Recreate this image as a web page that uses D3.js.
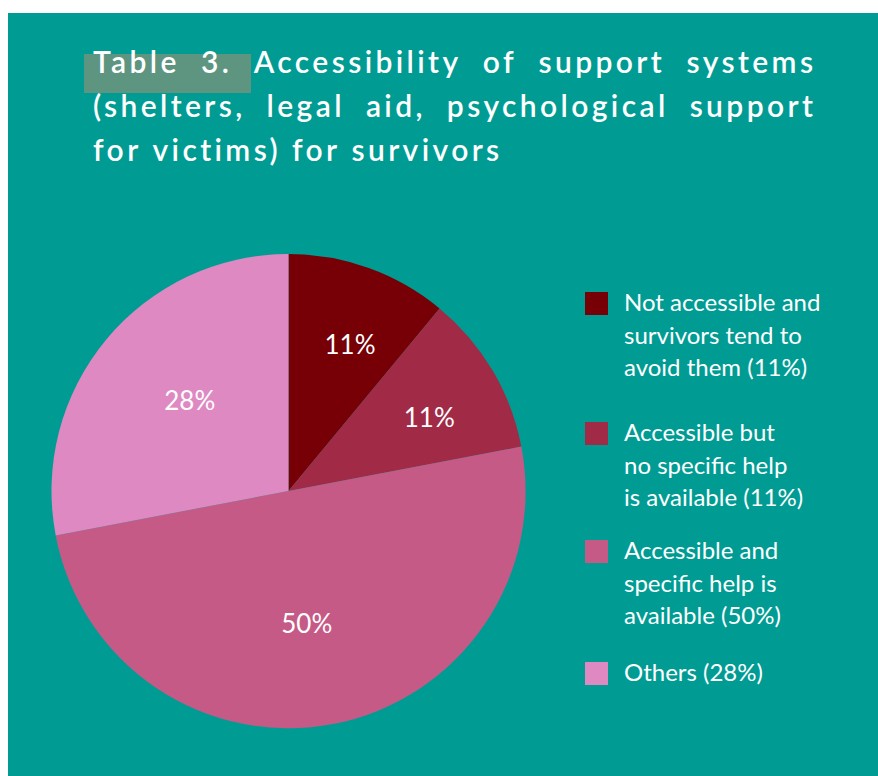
<!DOCTYPE html>
<html>
<head>
<meta charset="utf-8">
<script src="https://cdn.jsdelivr.net/npm/d3@7"></script>
<style>
  html, body { margin: 0; padding: 0; background: #ffffff; }
  svg { display: block; }
</style>
</head>
<body>
<svg id="chart" width="878" height="776"></svg>
<script>
// Support-system accessibility shares, clockwise from 12 o'clock
const categories = [
  "Not accessible and survivors tend to avoid them",
  "Accessible but no specific help is available",
  "Accessible and specific help is available",
  "Others"
];
const values = [11, 11, 50, 28];
const sliceColors = ["#760005", "#a12b46", "#c55a86", "#de89c2"];
const legendLines = [
  ["Not accessible and", "survivors tend to", "avoid them (11%)"],
  ["Accessible but", "no specific help", "is available (11%)"],
  ["Accessible and", "specific help is", "available (50%)"],
  ["Others (28%)"]
];
const titleLines = [
  { words: ["Table", "3.", "Accessibility", "of", "support", "systems"], justify: true },
  { words: ["(shelters,", "legal", "aid,", "psychological", "support"], justify: true },
  { words: ["for", "victims)", "for", "survivors"], justify: false }
];

const svg = d3.select("#chart");

// teal card
svg.append("rect")
  .attr("x", 8).attr("y", 13)
  .attr("width", 870).attr("height", 763)
  .attr("fill", "#009c94");

// ---- title (justified lines) ----
const titleX = 93, titleRight = 813, titleBase = 72.5, titleLead = 44;
const titleFont = { family: "Lato", size: 30, weight: 600, spacing: 3.4 };

// highlight behind "Table 3."
svg.append("rect")
  .attr("x", 84).attr("y", 54)
  .attr("width", 167).attr("height", 39)
  .attr("fill", "#5d9580");

const titleG = svg.append("g")
  .attr("font-family", titleFont.family)
  .attr("font-size", titleFont.size)
  .attr("font-weight", titleFont.weight)
  .attr("letter-spacing", titleFont.spacing)
  .attr("fill", "#ffffff");

// width of a space in the title font
const probeA = titleG.append("text").text("xx");
const probeB = titleG.append("text").attr("xml:space", "preserve").text("x x");
const spaceW = probeB.node().getComputedTextLength() - probeA.node().getComputedTextLength();
probeA.remove(); probeB.remove();

titleLines.forEach((line, i) => {
  const y = titleBase + i * titleLead;
  const nodes = line.words.map(w => titleG.append("text").attr("y", y).text(w));
  const widths = nodes.map(n => n.node().getComputedTextLength());
  const total = d3.sum(widths);
  const gap = line.justify
    ? (titleRight - titleX - total + titleFont.spacing) / (line.words.length - 1)
    : spaceW;
  let x = titleX;
  nodes.forEach((n, k) => { n.attr("x", x); x += widths[k] + gap; });
});

// ---- pie ----
const cx = 288.5, cy = 491, radius = 237;
const pie = d3.pie().sort(null).value(d => d)(values);
const arc = d3.arc().innerRadius(0).outerRadius(radius);
const pieG = svg.append("g").attr("transform", `translate(${cx},${cy})`);

pieG.selectAll("path.slice")
  .data(pie)
  .join("path")
  .attr("class", "slice")
  .attr("d", arc)
  .attr("fill", (d, i) => sliceColors[i]);

// labels: small slices sit further out than large ones, turned slightly clockwise
const labelTurn = 3 * Math.PI / 180;
const labelPos = d => {
  const share = d.value / d3.sum(values);
  const r = radius * (share < 0.2 ? 0.67 : 0.566);
  const a = (d.startAngle + d.endAngle) / 2 + labelTurn;
  return [r * Math.sin(a), -r * Math.cos(a)];
};
pieG.selectAll("text.pct")
  .data(pie)
  .join("text")
  .attr("class", "pct")
  .attr("x", d => labelPos(d)[0])
  .attr("y", d => labelPos(d)[1])
  .attr("dy", "0.36em")
  .attr("text-anchor", "middle")
  .attr("font-family", "Lato")
  .attr("font-size", 26)
  .attr("fill", "#ffffff")
  .text(d => d.value + "%");

// ---- legend ----
const legendTops = [292, 422, 540, 662];
const legendX = 585, swatch = 23, textX = 624, lineH = 32.5;
const legendG = svg.append("g")
  .attr("font-family", "Lato")
  .attr("font-size", 24)
  .attr("fill", "#ffffff");

categories.forEach((c, i) => {
  const g = legendG.append("g");
  g.append("rect")
    .attr("x", legendX).attr("y", legendTops[i])
    .attr("width", swatch).attr("height", swatch)
    .attr("fill", sliceColors[i]);
  legendLines[i].forEach((t, k) => {
    g.append("text")
      .attr("x", textX)
      .attr("y", legendTops[i] + 19 + k * lineH)
      .text(t);
  });
});
</script>
</body>
</html>
